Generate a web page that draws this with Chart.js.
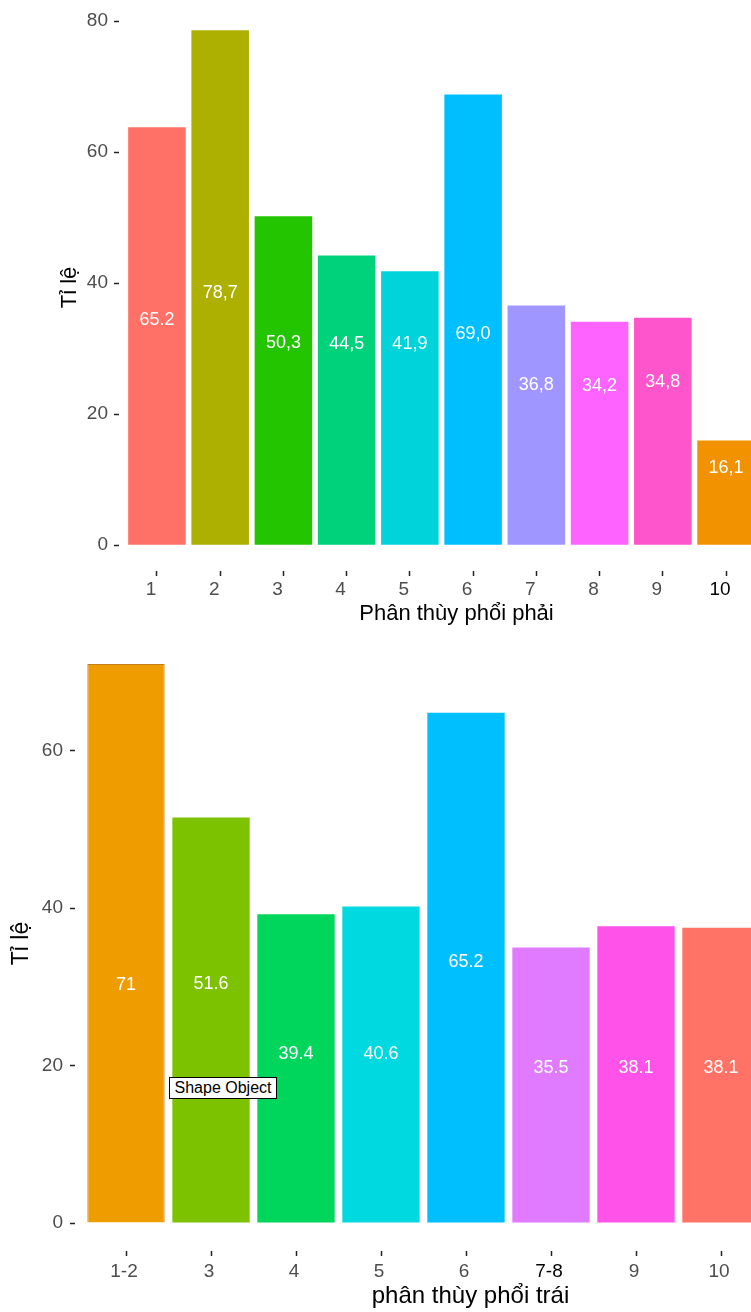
<!DOCTYPE html>
<html>
<head>
<meta charset="utf-8">
<script src="https://cdn.jsdelivr.net/npm/chart.js@4.4.1/dist/chart.umd.min.js"></script>
<style>
  html, body { margin: 0; padding: 0; background: #fff; overflow: hidden; width: 751px; height: 1312px; }
  .box { position: absolute; left: 0; }
  #topBox { top: 0; }
  #botBox { top: 630px; }
  #shape {
    position: absolute; left: 169px; top: 1077px; width: 106px; height: 20px;
    border: 1px solid #000; background: #fff; color: #000;
    font: 16px "Liberation Sans", Arial, sans-serif; line-height: 20px; text-align: center;
  }
</style>
</head>
<body>
<div class="box" id="topBox"><canvas id="chartRight" width="780" height="630"></canvas></div>
<div class="box" id="botBox"><canvas id="chartLeft" width="790" height="682"></canvas></div>
<div id="shape">Shape Object</div>
<script>
// phổi phải (top)
const rightCats = ['1', '2', '3', '4', '5', '6', '7', '8', '9', '10'];
const rightValues = [63.8, 78.6, 50.2, 44.2, 41.8, 68.8, 36.6, 34.1, 34.7, 16.0];
const rightLabels = ['65.2', '78,7', '50,3', '44,5', '41,9', '69,0', '36,8', '34,2', '34,8', '16,1'];
const rightLabelAt = [34.4, 38.5, 30.8, 30.7, 30.7, 32.2, 24.4, 24.3, 24.9, 11.8];
const rightTicks = [0, 20, 40, 60, 80];
const rightColors = ['#FF7167', '#ADB000', '#22C500', '#00D27C', '#00D4DA', '#00BFFF', '#9F96FF', '#FF63FF', '#FF55CC', '#F39200'];

// phổi trái (bottom)
const leftCats = ['1-2', '3', '4', '5', '6', '7-8', '9', '10'];
const leftValues = [71.0, 51.5, 39.2, 40.2, 64.8, 35.0, 37.7, 37.5];
const leftLabels = ['71', '51.6', '39.4', '40.6', '65.2', '35.5', '38.1', '38.1'];
const leftLabelAt = [30.2, 30.4, 21.4, 21.5, 33.1, 19.7, 19.7, 19.7];
const leftTicks = [0, 20, 40, 60];
const leftColors = ['#EE9C00', '#7CC200', '#00D65C', '#00D9E0', '#00BFFF', '#E07BFF', '#FF52E8', '#FF7265'];

const FONT = '"Liberation Sans", Arial, sans-serif';
Chart.defaults.font.family = FONT;

// white value labels inside bars + x axis caption
const barText = {
  id: 'barText',
  afterDatasetsDraw(chart, args, opts) {
    const ctx = chart.ctx;
    const y = chart.scales.y;
    const area = chart.chartArea;
    ctx.save();
    ctx.fillStyle = '#fff';
    ctx.font = '18px ' + FONT;
    ctx.textAlign = 'center';
    ctx.textBaseline = 'middle';
    chart.getDatasetMeta(0).data.forEach((bar, i) => {
      ctx.fillText(opts.labels[i], bar.x, y.getPixelForValue(opts.at[i]));
    });
    ctx.fillStyle = '#000';
    ctx.font = opts.titleSize + 'px ' + FONT;
    ctx.textBaseline = 'alphabetic';
    ctx.fillText(opts.title, (area.left + area.right) / 2 + opts.dx, area.bottom + opts.dy);
    ctx.restore();
  }
};

function noPad(s) {
  s.paddingTop = 0; s.paddingBottom = 0; s.paddingLeft = 0; s.paddingRight = 0;
}

function makeChart(id, cfg) {
  const n = cfg.cats.length;
  return new Chart(document.getElementById(id), {
    type: 'bar',
    data: {
      datasets: [{
        data: cfg.values.map((v, i) => ({ x: i + 1, y: v })),
        backgroundColor: cfg.colors,
        borderColor: cfg.borderColors,
        borderWidth: cfg.borderWidths,
        barPercentage: 0.91,
        categoryPercentage: 1
      }]
    },
    options: {
      responsive: false,
      animation: false,
      layout: { padding: { top: cfg.padTop, right: cfg.padRight, left: 0, bottom: 0 } },
      plugins: {
        legend: { display: false },
        tooltip: { enabled: false },
        barText: { labels: cfg.labels, at: cfg.labelAt, title: cfg.xTitle, titleSize: cfg.xTitleSize, dx: cfg.xTitleDx, dy: cfg.xTitleDy }
      },
      scales: {
        x: {
          type: 'linear',
          offset: false,
          min: 0.4,
          max: n + 0.6,
          afterBuildTicks: s => { s.ticks = cfg.cats.map((c, i) => ({ value: i + 1 })); },
          afterFit: s => { s.height = cfg.xHeight; noPad(s); },
          border: { display: false },
          grid: { display: true, offset: false, drawOnChartArea: false, drawTicks: true, tickLength: 5, tickColor: '#222', tickWidth: 1.5 },
          ticks: {
            autoSkip: false,
            maxRotation: 0,
            padding: cfg.xPad,
            labelOffset: cfg.labelOffset,
            font: { size: 19 },
            color: c => (c.index === cfg.darkTick ? '#000' : '#4D4D4D'),
            callback: (v, i) => cfg.cats[i]
          }
        },
        y: {
          min: cfg.yMin,
          max: cfg.yMax,
          afterBuildTicks: s => { s.ticks = cfg.ticks.map(v => ({ value: v })); },
          afterFit: s => { s.width = cfg.yWidth; noPad(s); },
          border: { display: false },
          grid: { display: true, drawOnChartArea: false, drawTicks: true, tickLength: 5, tickColor: '#222', tickWidth: 1.5 },
          ticks: { padding: cfg.yPad, font: { size: 19 }, color: '#4D4D4D' },
          title: { display: true, text: 'Tỉ lệ', color: '#000', font: { size: cfg.yTitleSize }, padding: { top: cfg.yTitlePad, bottom: 0 } }
        }
      }
    },
    plugins: [barText]
  });
}

makeChart('chartRight', {
  cats: rightCats, values: rightValues, labels: rightLabels, labelAt: rightLabelAt, ticks: rightTicks,
  colors: rightColors, borderColors: rightColors, borderWidths: 0,
  yMin: -3.93, yMax: 82.6, padTop: 4, padRight: 16, xHeight: 59, yWidth: 119,
  xPad: 2, yPad: 6, labelOffset: -6, darkTick: 9,
  yTitleSize: 22, yTitlePad: 57,
  xTitle: 'Phân thùy phổi phải', xTitleSize: 22, xTitleDx: 15, xTitleDy: 49
});

makeChart('chartLeft', {
  cats: leftCats, values: leftValues, labels: leftLabels, labelAt: leftLabelAt, ticks: leftTicks,
  colors: leftColors, borderColors: ['#C0801A', ...leftColors.slice(1)], borderWidths: [1, 0, 0, 0, 0, 0, 0, 0],
  yMin: -3.55, yMax: 74.55, padTop: 6, padRight: 18, xHeight: 61, yWidth: 75,
  xPad: 4, yPad: 7, labelOffset: -2, darkTick: 5,
  yTitleSize: 23, yTitlePad: 8,
  xTitle: 'phân thùy phổi trái', xTitleSize: 24, xTitleDx: 47, xTitleDy: 52
});
</script>
</body>
</html>
